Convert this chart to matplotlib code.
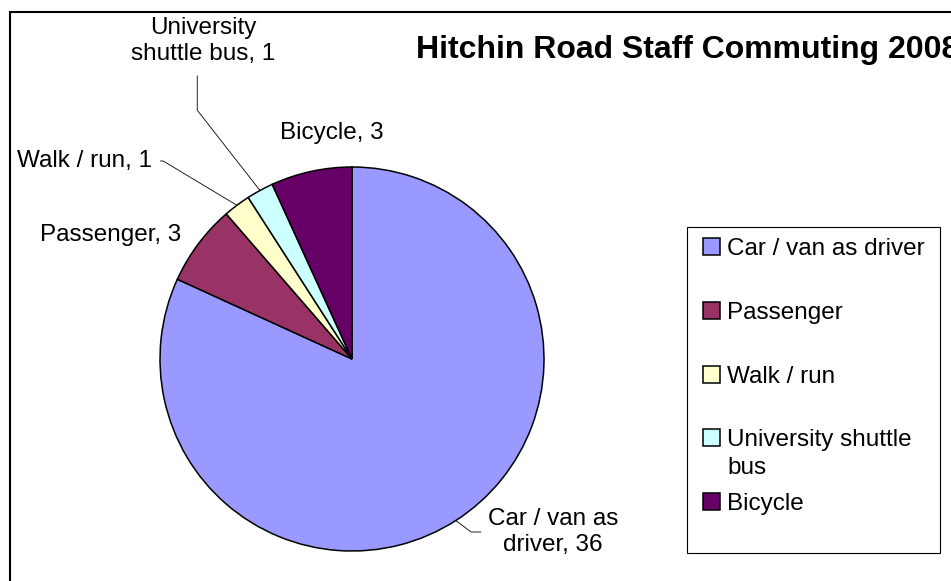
import matplotlib.pyplot as plt
from matplotlib.patches import Rectangle
import numpy as np

# commuting modes, in the order Excel draws them (clockwise from 12 o'clock)
modes = ["Car / van as driver", "Passenger", "Walk / run",
         "University shuttle bus", "Bicycle"]
legend_labels = ["Car / van as driver", "Passenger", "Walk / run",
                 "University shuttle", "Bicycle"]
slice_labels = ["Car / van as\ndriver", "Passenger", "Walk / run",
                "University\nshuttle bus", "Bicycle"]
staff = [36, 3, 1, 1, 3]
colours = ["#9999FF", "#993366", "#FFFFCC", "#CCFFFF", "#660066"]

plt.rcParams['font.family'] = ['Liberation Sans', 'DejaVu Sans']

W, H = 951, 581
fig = plt.figure(figsize=(W / 100, H / 100), dpi=100)

# pie centre (352, 359) px, radius 192 px
cx, cy, r = 352, 359, 192
ax = fig.add_axes([(cx - r) / W, (H - cy - r) / H, 2 * r / W, 2 * r / H])
wedges, _ = ax.pie(staff, colors=colours, startangle=90, counterclock=False,
                   wedgeprops=dict(edgecolor="black", linewidth=1.1))
ax.set_xlim(-1, 1)
ax.set_ylim(-1, 1)
ax.set_aspect("equal")


def px(x, y):
    # pixel position -> data coords of the pie axes
    return ((x - cx) / r, (cy - y) / r)


def edge(w):
    ang = np.deg2rad((w.theta1 + w.theta2) / 2)
    return (np.cos(ang), np.sin(ang))


fs = 17.5
lab = [f"{t}, {v}" for t, v in zip(slice_labels, staff)]

# car / van as driver
ax.annotate(lab[0], xy=edge(wedges[0]), xytext=px(488, 532), fontsize=fs,
            ha="left", va="center", multialignment="center",
            arrowprops=dict(arrowstyle="-", color="black", lw=0.6,
                            shrinkA=3, shrinkB=0, relpos=(0, 0.5),
                            connectionstyle="angle,angleA=0,angleB=-37"))
# passenger
ax.text(*px(111, 235), lab[1], fontsize=fs, ha="center", va="center")
# walk / run
ax.annotate(lab[2], xy=edge(wedges[2]), xytext=px(152, 161), fontsize=fs,
            ha="right", va="center",
            arrowprops=dict(arrowstyle="-", color="black", lw=0.6,
                            shrinkA=4, shrinkB=0, relpos=(1, 0.5),
                            connectionstyle="angle,angleA=0,angleB=-31"))
# university shuttle bus
ax.annotate(lab[3], xy=edge(wedges[3]), xytext=px(203, 41), fontsize=fs,
            ha="center", va="center", multialignment="center",
            arrowprops=dict(arrowstyle="-", color="black", lw=0.6,
                            shrinkA=6, shrinkB=0, relpos=(0.46, 0),
                            connectionstyle="angle,angleA=90,angleB=-52"))
# bicycle
ax.text(*px(332, 133), lab[4], fontsize=fs, ha="center", va="center")

for t in ax.texts:
    t.set_clip_on(False)

# title runs past the right edge in the original too
fig.text(416 / W, 1 - 50 / H, "Hitchin Road Staff Commuting 2008",
         fontsize=23, fontweight="bold", ha="left", va="center")

# chart area border (runs off right and bottom)
fig.add_artist(Rectangle((10 / W, -0.1), 1.2, 1 - 12 / H + 0.1,
                         transform=fig.transFigure, fill=False,
                         edgecolor="black", linewidth=1.5))

# legend box and entries
fig.add_artist(Rectangle((687 / W, 1 - 553 / H), 253 / W, 326 / H,
                         transform=fig.transFigure, fill=False,
                         edgecolor="black", linewidth=0.8))
leg = fig.legend(wedges, legend_labels, loc="upper left",
                 bbox_to_anchor=(703 / W, 1 - 238 / H), frameon=False,
                 fontsize=fs, borderpad=0, borderaxespad=0,
                 handlelength=0.7, handleheight=0.7, handletextpad=0.3,
                 labelspacing=1.72)
# wrapped second line of the shuttle bus entry, as Excel shows it
fig.draw_without_rendering()
ax.annotate("bus", xy=(0, 0), xycoords=leg.get_texts()[3],
            xytext=(0, -20), textcoords="offset points",
            fontsize=fs, ha="left", va="bottom", annotation_clip=False)

fig.savefig("out.png", dpi=100)
